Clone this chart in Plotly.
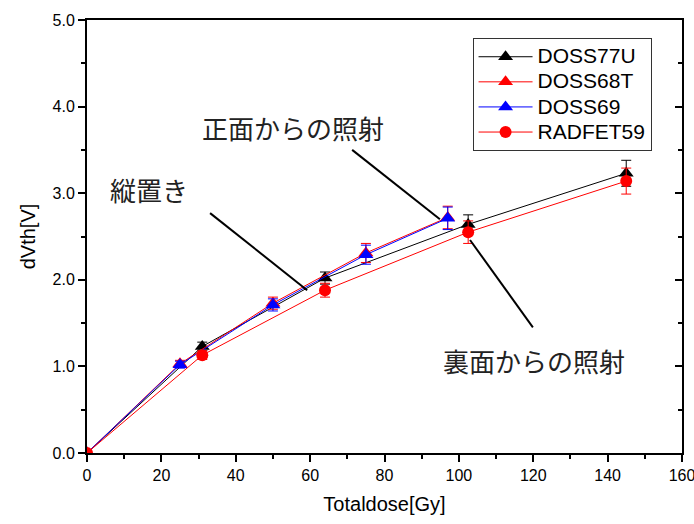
import plotly.graph_objects as go

# Threshold-voltage shift vs. total dose
dose_77u = [0, 31, 64, 102.5, 145]
dvth_77u = [0, 1.23, 2.02, 2.64, 3.23]
err_77u = [0, 0.05, 0.07, 0.11, 0.15]

dose_68t = [0, 25, 50, 75, 97]
dvth_68t = [0, 1.03, 1.73, 2.31, 2.72]
err_68t = [0, 0.04, 0.07, 0.11, 0.13]

dose_69 = [0, 25, 50, 75, 97]
dvth_69 = [0, 1.02, 1.71, 2.29, 2.71]
err_69 = [0, 0.04, 0.07, 0.11, 0.13]

dose_rad59 = [0, 31, 64, 102.5, 145]
dvth_rad59 = [0, 1.13, 1.88, 2.55, 3.14]
err_rad59 = [0, 0.05, 0.08, 0.13, 0.15]

series = [
    ("DOSS77U", dose_77u, dvth_77u, err_77u, "black", "triangle-up"),
    ("DOSS68T", dose_68t, dvth_68t, err_68t, "red", "triangle-up"),
    ("DOSS69", dose_69, dvth_69, err_69, "blue", "triangle-up"),
    ("RADFET59", dose_rad59, dvth_rad59, err_rad59, "red", "circle"),
]

# Callout labels: (text, label x, label y, pointer start, pointer end)
callouts = [
    ("正面からの照射", 55.4, 3.76, (71.3, 3.50), (94.9, 2.70)),
    ("縦置き", 16.7, 3.04, (33.1, 2.77), (59.2, 1.88)),
    ("裏面からの照射", 120.2, 1.07, (103.0, 2.46), (119.9, 1.45)),
]

fig = go.Figure()
for name, x, y, e, color, sym in series:
    fig.add_trace(go.Scatter(
        x=x, y=y, mode="lines+markers",
        # larger legend text while keeping the compact row spacing
        name=f"<span style='font-size:21px'>{name}</span>",
        line=dict(color=color, width=1),
        marker=dict(symbol=sym, color=color, size=12 if sym == "circle" else 13,
                    line=dict(width=0)),
        error_y=dict(type="data", array=e, color=color, thickness=1, width=5),
    ))

# helper trace so the right-hand axis with inward ticks is drawn
fig.add_trace(go.Scatter(x=[None], y=[None], yaxis="y2", showlegend=False,
                         hoverinfo="skip"))

for text, tx, ty, p0, p1 in callouts:
    fig.add_annotation(x=tx, y=ty, text=text, showarrow=False,
                       font=dict(family="Noto Sans CJK JP", size=26, color="#222"))
    fig.add_shape(type="line", x0=p0[0], y0=p0[1], x1=p1[0], y1=p1[1],
                  line=dict(color="black", width=2))

tick_font = dict(family="Liberation Sans", size=16, color="black")

fig.update_layout(
    width=694, height=524,
    margin=dict(l=87, r=12, t=20, b=71, autoexpand=False),
    paper_bgcolor="white", plot_bgcolor="white",
    showlegend=True,
    legend=dict(x=0.648, y=0.958, xanchor="left", yanchor="top",
                bgcolor="white", bordercolor="#333", borderwidth=1,
                font=dict(family="Liberation Sans", size=17, color="black"),
                tracegroupgap=0, itemwidth=54),
    xaxis=dict(range=[0, 160], dtick=20, tick0=0, ticks="outside", ticklen=7,
               tickwidth=2, tickcolor="black", showline=True, linewidth=2,
               linecolor="black", mirror=True, showgrid=False, zeroline=False,
               tickfont=tick_font, automargin=False, ticklabeloverflow="allow",
               minor=dict(dtick=10, ticks="outside", ticklen=4, tickwidth=2,
                          tickcolor="black"),
               title=dict(text="Totaldose[Gy]", standoff=14,
                          font=dict(family="Liberation Sans", size=20, color="black"))),
    yaxis=dict(range=[0, 5], dtick=1, tick0=0, tickformat=".1f", ticks="outside",
               ticklen=7, tickwidth=2, tickcolor="black", showline=True,
               linewidth=2, linecolor="black", mirror=True, showgrid=False,
               zeroline=False, tickfont=tick_font, automargin=False,
               ticklabeloverflow="allow",
               minor=dict(dtick=0.5, ticks="outside", ticklen=4, tickwidth=2,
                          tickcolor="black"),
               title=dict(text="dVth[V]", standoff=12,
                          font=dict(family="Liberation Sans", size=20, color="black"))),
    yaxis2=dict(range=[0, 5], dtick=1, overlaying="y", side="right",
                ticks="inside", ticklen=7, tickwidth=2, tickcolor="black",
                showticklabels=False, showgrid=False, zeroline=False,
                automargin=False,
                minor=dict(dtick=0.5, ticks="inside", ticklen=4, tickwidth=2,
                           tickcolor="black")),
)

fig.write_html("out.html")
